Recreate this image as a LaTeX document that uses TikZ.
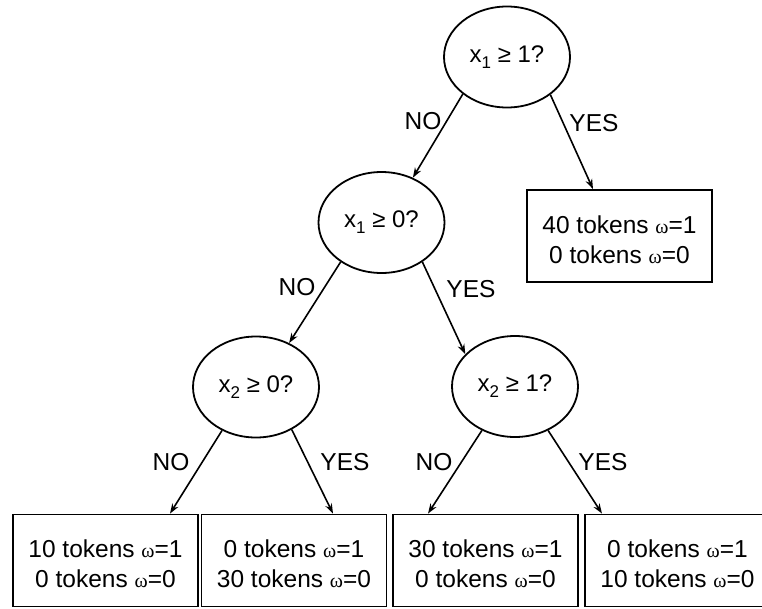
\documentclass[tikz,border=0pt]{standalone}
\usepackage{fontspec}
\setmainfont{Liberation Sans}
\newfontfamily\omegafont{Liberation Serif}
\usetikzlibrary{shapes.geometric,arrows.meta}
\newcommand{\om}{{\omegafont\fontsize{20}{20}\selectfont ω}}
\newcommand{\sbs}[1]{\raisebox{-6pt}{\fontsize{17}{17}\selectfont #1}}
\newcommand{\twolines}[2]{\rule{0pt}{25pt}#1\\#2}
\tikzset{
  q/.style={ellipse,draw,line width=1.8pt,minimum width=126pt,minimum height=101pt,inner sep=0pt,font=\fontsize{24}{24}\selectfont},
  leaf/.style={rectangle,draw,line width=1.8pt,minimum width=185pt,minimum height=92pt,inner sep=0pt,align=center,font=\fontsize{24.5}{30}\selectfont},
  arr/.style={-{Stealth[length=10pt,width=7pt]},line width=1.6pt},
  lab/.style={font=\fontsize{24.5}{24.5}\selectfont,inner sep=0pt}
}
\begin{document}
\begin{tikzpicture}[x=1pt,y=-1pt]
\useasboundingbox (0,0) rectangle (762,608);
\node[q] (r) at (507,57) {x\sbs{1} ≥ 1?};
\node[q] (n2) at (381.5,222.5) {x\sbs{1} ≥ 0?};
\node[q] (n3) at (256,387) {x\sbs{2} ≥ 0?};
\node[q] (n4) at (515,386.5) {x\sbs{2} ≥ 1?};
\node[leaf] (b1) at (619.5,236) {\twolines{40 tokens \om=1}{0 tokens \om=0}};
\node[leaf] (l1) at (105.5,560.5) {\twolines{10 tokens \om=1}{0 tokens \om=0}};
\node[leaf] (l2) at (294,560.5) {\twolines{0 tokens \om=1}{30 tokens \om=0}};
\node[leaf] (l3) at (485.5,560.5) {\twolines{30 tokens \om=1}{0 tokens \om=0}};
\node[leaf] (l4) at (677.5,560.5) {\twolines{0 tokens \om=1}{10 tokens \om=0}};
\draw[arr] (r.220) -- (n2.55);
\draw[arr] (r.319) -- ([xshift=-26.5pt]b1.north);
\draw[arr] (n2.224) -- (n3.53);
\draw[arr] (n2.316) -- (n4.147);
\draw[arr] (n3.232) -- ([xshift=64.5pt]l1.north);
\draw[arr] (n3.310) -- ([xshift=39pt]l2.north);
\draw[arr] (n4.233) -- ([xshift=-57.5pt]l3.north);
\draw[arr] (n4.307) -- ([xshift=-75.5pt]l4.north);
\node[lab] (t1) at (423,121) {NO};
\node[lab] (t2) at (594,123) {YES};
\node[lab] (t3) at (297,287) {NO};
\node[lab] (t4) at (471,289) {YES};
\node[lab] (t5) at (171,462) {NO};
\node[lab] (t6) at (345,462) {YES};
\node[lab] (t7) at (434,462) {NO};
\node[lab] (t8) at (603,462) {YES};
\end{tikzpicture}
\end{document}
